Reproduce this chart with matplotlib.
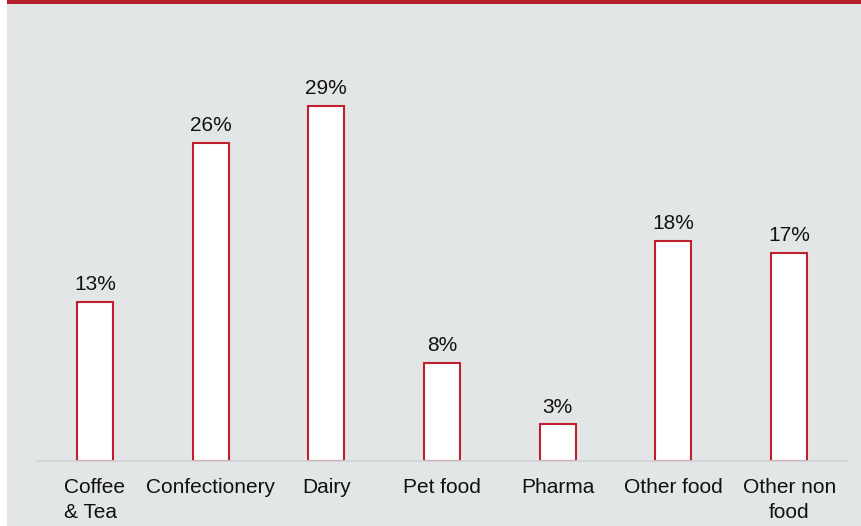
import matplotlib.pyplot as plt
from matplotlib.patches import Rectangle

categories = ["Coffee\n& Tea", "Confectionery", "Dairy", "Pet food", "Pharma", "Other food", "Other non\nfood"]
values = [13, 26, 29, 8, 3, 18, 17]

bg = "#e3e6e7"
red = "#c0202e"

plt.rcParams["font.family"] = ["Liberation Sans", "DejaVu Sans"]

fig = plt.figure(figsize=(8.62, 5.26), dpi=100)
fig.patch.set_facecolor("white")

# gray panel and red top band
fig.patches.append(Rectangle((7 / 862, 0), 1, 1 - 3 / 526, transform=fig.transFigure,
                             facecolor=bg, edgecolor="none", zorder=-2))
fig.patches.append(Rectangle((7 / 862, 1 - 4 / 526), 1, 4 / 526, transform=fig.transFigure,
                             facecolor="#b81f2c", edgecolor="none", zorder=-2))

ax = fig.add_axes([37 / 862, 65 / 526, 810 / 862, 0.8144])
ax.set_facecolor("none")
ax.set_zorder(1)

x = range(len(categories))
bars = ax.bar(x, values, width=0.31, color="white", edgecolor=red, linewidth=1.5, zorder=2)

for xi, v in zip(x, values):
    ax.annotate(f"{v}%", (xi, v), xytext=(0, 5.5), textcoords="offset points",
                ha="center", va="bottom", fontsize=15, color="#111111")

ax.set_xlim(-0.5, 6.5)
ax.set_ylim(0, 35)
ax.set_xticks(list(x))
ax.set_xticklabels(categories, fontsize=15, color="#111111", linespacing=1.4)
ax.tick_params(axis="x", length=0, pad=12)
ax.get_xticklabels()[0].set_multialignment("left")
ax.set_yticks([])
for s in ["top", "right", "left"]:
    ax.spines[s].set_visible(False)
ax.spines["bottom"].set_color("#cfd1d2")
ax.spines["bottom"].set_linewidth(1.2)

fig.savefig("out.png", dpi=100)
